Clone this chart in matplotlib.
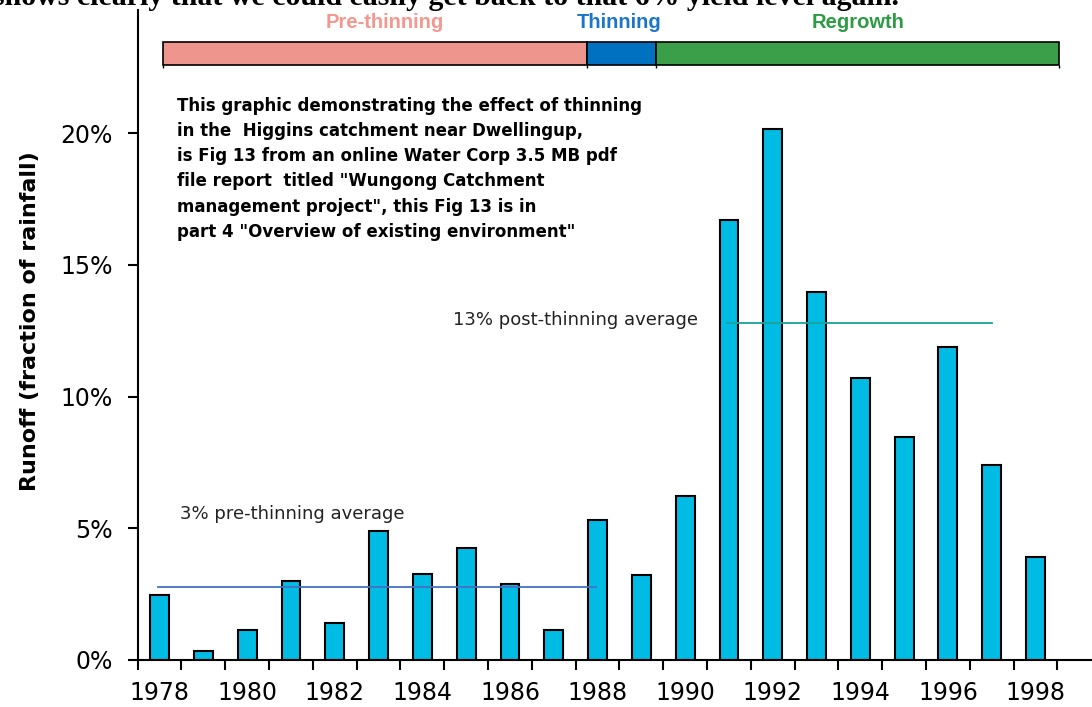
import matplotlib
matplotlib.use("Agg")
import matplotlib.pyplot as plt
from matplotlib.patches import Rectangle

# runoff as % of rainfall
YEARS = list(range(1978, 1999))
RUNOFF = [2.47, 0.35, 1.14, 3.0, 1.42, 4.9, 3.25, 4.24, 2.87, 1.14, 5.3,
          3.23, 6.23, 16.7, 20.14, 13.98, 10.69, 8.45, 11.89, 7.4, 3.9]

# treatment phases shown as a strip above the bars
PHASES = ["Pre-thinning", "Thinning", "Regrowth"]
PHASE_START = [1978.08, 1987.76, 1989.33]
PHASE_END = [1987.76, 1989.33, 1998.53]
PHASE_LABEL_X = [1983.15, 1988.5, 1993.95]
PHASE_COLORS = ["#EE958D", "#0070C0", "#3A9F48"]
PHASE_TEXT = ["#F4978E", "#1B75C9", "#2E9A44"]

# average lines
PRE_AVG, PRE_SPAN = 2.78, (1977.96, 1987.96)
POST_AVG, POST_SPAN = 12.8, (1990.95, 1997.0)

YTICKS = [0, 5, 10, 15, 20]
XLABEL_YEARS = list(range(1978, 1999, 2))

NOTE = ("This graphic demonstrating the effect of thinning\n"
        "in the  Higgins catchment near Dwellingup,\n"
        "is Fig 13 from an online Water Corp 3.5 MB pdf\n"
        "file report  titled \"Wungong Catchment\n"
        "management project\", this Fig 13 is in\n"
        "part 4 \"Overview of existing environment\"")

SANS = ["DejaVu Sans"]
NARROW = ["Liberation Sans", "DejaVu Sans"]

fig = plt.figure(figsize=(10.92, 7.07), dpi=100)
ax = fig.add_axes([0.1261, 0.0665, 1.0 - 0.1261, 0.9859 - 0.0665])

ax.bar(YEARS, RUNOFF, width=0.43, color="#00BCE4", edgecolor="black", linewidth=1.5, zorder=2)

ax.plot(PRE_SPAN, [PRE_AVG, PRE_AVG], color="#4472C4", lw=1.3, zorder=3)
ax.plot(POST_SPAN, [POST_AVG, POST_AVG], color="#1AA39A", lw=1.3, zorder=3)
ax.text(1978.47, 5.55, "3% pre-thinning average", fontsize=13, color="#222222",
        family=SANS, va="center", ha="left")
ax.text(1984.7, 12.9, "13% post-thinning average", fontsize=13, color="#222222",
        family=SANS, va="center", ha="left")

ax.text(1978.4, 21.38, NOTE, fontsize=12, fontweight="bold", family=SANS,
        va="top", ha="left", linespacing=1.52)

# phase strip
band_lo, band_hi = 22.58, 23.45
for name, x0, x1, lx, c, tc in zip(PHASES, PHASE_START, PHASE_END, PHASE_LABEL_X,
                                    PHASE_COLORS, PHASE_TEXT):
    ax.add_patch(Rectangle((x0, band_lo), x1 - x0, band_hi - band_lo, facecolor=c,
                           edgecolor="black", linewidth=1.2, clip_on=False, zorder=3))
    ax.text(lx, 24.2, name, color=tc, fontsize=14.5, fontweight="bold",
            family=NARROW, ha="center", va="center")
ax.vlines(PHASE_START + [PHASE_END[-1]], band_lo - 0.12, band_lo, color="black", lw=1)

ax.set_xlim(1977.5, 1999.29)
ax.set_ylim(0, 24.67)

ax.set_yticks(YTICKS)
ax.set_yticklabels([f"{v}%" for v in YTICKS], family=SANS, fontsize=17)
ax.set_xticks(XLABEL_YEARS)
ax.set_xticklabels([str(y) for y in XLABEL_YEARS], family=SANS, fontsize=17)
ax.set_xticks([y - 0.5 for y in YEARS] + [YEARS[-1] + 0.5], minor=True)
ax.tick_params(axis="x", which="major", length=0, pad=15)
ax.tick_params(axis="x", which="minor", length=7, width=1.5, direction="out")
ax.tick_params(axis="y", length=7, width=1.5, direction="out", pad=11)

for side in ["top", "right"]:
    ax.spines[side].set_visible(False)
for side in ["left", "bottom"]:
    ax.spines[side].set_linewidth(1.5)

ax.set_ylabel("Runoff (fraction of rainfall)", fontsize=16, fontweight="bold", family=SANS)
# right edge of the rotated label sits at about x=40px, centre at y=321px
ax.yaxis.set_label_coords(-(137.7 - 40) / (1092 - 137.7), (660 - 321) / 650)

# caption line that is cut off at the top of the image
fig.text(-0.006, 1 - 5 / 707, "shows clearly that we could easily get back to that 6% yield level again.",
         family=["Liberation Serif", "DejaVu Serif"], fontweight="bold", fontsize=21.5,
         va="baseline", ha="left")

plt.savefig("out.png", dpi=100)
plt.close()
